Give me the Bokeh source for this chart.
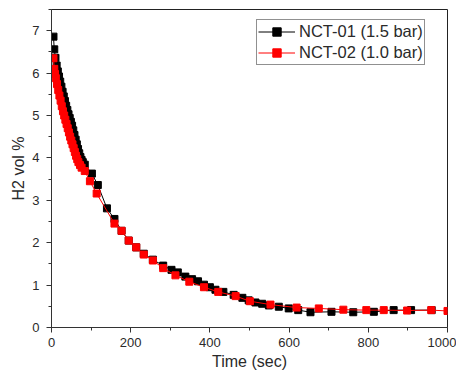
from bokeh.plotting import figure
from bokeh.embed import file_html
from bokeh.resources import INLINE
from bokeh.models import Range1d, FixedTicker, Legend, LegendItem

black_t = [5, 7, 10, 13, 16, 19, 22, 25, 28, 31, 34, 37, 40, 43, 46, 49, 52, 55, 58, 61,
           64, 67, 70, 73, 76, 79, 84, 102, 117, 140, 159, 177, 195, 214, 233, 256, 282, 303, 319, 338,
           355, 370, 385, 400, 414, 434, 460, 482, 498, 515, 532, 549, 574, 599, 623, 654, 707, 762, 814, 864,
           908, 960]
black_v = [6.86, 6.56, 6.36, 6.18, 6.04, 5.92, 5.80, 5.68, 5.56, 5.45, 5.34, 5.23, 5.13, 5.03, 4.94, 4.85, 4.76, 4.65, 4.54, 4.43,
           4.32, 4.21, 4.11, 4.02, 3.95, 3.90, 3.84, 3.63, 3.36, 2.81, 2.56, 2.28, 2.05, 1.89, 1.74, 1.60, 1.46, 1.36, 1.30, 1.20,
           1.14, 1.09, 1.01, 0.95, 0.89, 0.84, 0.77, 0.70, 0.64, 0.59, 0.56, 0.52, 0.49, 0.45, 0.41, 0.36, 0.37, 0.36, 0.37, 0.41,
           0.41, 0.41]

red_t = [5, 7, 9, 11, 14, 17, 20, 23, 26, 29, 32, 35, 38, 41, 44, 47, 50, 53, 56, 59,
         62, 65, 68, 72, 76, 84, 97, 114, 159, 177, 195, 214, 233, 256, 282, 313, 348, 385, 421, 465,
         501, 553, 619, 675, 737, 795, 839, 898, 959, 1000]
red_v = [6.35, 6.10, 5.98, 5.88, 5.74, 5.60, 5.47, 5.35, 5.22, 5.10, 5.00, 4.90, 4.80, 4.70, 4.60, 4.50, 4.41, 4.32, 4.23, 4.14,
         4.05, 3.97, 3.90, 3.83, 3.77, 3.69, 3.45, 3.16, 2.45, 2.28, 2.05, 1.89, 1.72, 1.58, 1.40, 1.23, 1.08, 0.95, 0.84, 0.74,
         0.62, 0.54, 0.47, 0.45, 0.42, 0.41, 0.41, 0.40, 0.41, 0.39]

label_black = "NCT-01 (1.5 bar)"
label_red = "NCT-02 (1.0 bar)"
x_ticks = [0, 200, 400, 600, 800, 1000]
y_ticks = [0, 1, 2, 3, 4, 5, 6, 7]

FONT = "Liberation Sans"

p = figure(width=456, height=372, output_backend="svg", toolbar_location=None,
           x_range=Range1d(0, 1000), y_range=Range1d(0, 7.5),
           min_border_left=51, min_border_right=9, min_border_top=9, min_border_bottom=44)
p.grid.visible = False
p.outline_line_color = "#222222"
p.outline_line_width = 1

for ax, ticks, minor in ((p.xaxis[0], x_ticks, [100, 300, 500, 700, 900]),
                         (p.yaxis[0], y_ticks, [0.5, 1.5, 2.5, 3.5, 4.5, 5.5, 6.5, 7.5])):
    ax.ticker = FixedTicker(ticks=ticks, minor_ticks=minor)
    ax.major_tick_out = 5
    ax.major_tick_in = 0
    ax.minor_tick_out = 3
    ax.minor_tick_in = 0
    ax.axis_line_color = "#333333"
    ax.major_tick_line_color = "#333333"
    ax.minor_tick_line_color = "#333333"
    ax.major_label_text_font = FONT
    ax.major_label_text_font_size = "13px"
    ax.major_label_text_color = "#2a2a2a"
    ax.axis_label_text_font = FONT
    ax.axis_label_text_font_size = "16px"
    ax.axis_label_text_font_style = "normal"
    ax.axis_label_text_color = "#2a2a2a"

p.xaxis.major_label_standoff = 5
p.yaxis.major_label_standoff = 7
p.xaxis.axis_label = "Time (sec)"
p.yaxis.axis_label = "H2 vol %"
p.xaxis.axis_label_standoff = 3
p.yaxis.axis_label_standoff = 2

lb = p.line(black_t, black_v, line_color="black", line_width=1)
sb = p.scatter(black_t, black_v, marker="square", size=7, fill_color="black", line_color="black")
lr = p.line(red_t, red_v, line_color="red", line_width=1)
sr = p.scatter(red_t, red_v, marker="square", size=7, fill_color="red", line_color="red")

legend = Legend(items=[LegendItem(label=label_black, renderers=[lb, sb]),
                       LegendItem(label=label_red, renderers=[lr, sr])],
                location=(205, 262))
legend.border_line_color = "#222222"
legend.border_line_width = 1
legend.background_fill_alpha = 1
legend.padding = 1
legend.spacing = 0
legend.margin = 0
legend.glyph_width = 37
legend.glyph_height = 21
legend.label_height = 21
legend.label_standoff = 4
legend.label_text_font = FONT
legend.label_text_font_size = "16.5px"
legend.label_text_color = "#2a2a2a"
p.add_layout(legend, "center")

open("out.html", "w").write(file_html(p, INLINE))
